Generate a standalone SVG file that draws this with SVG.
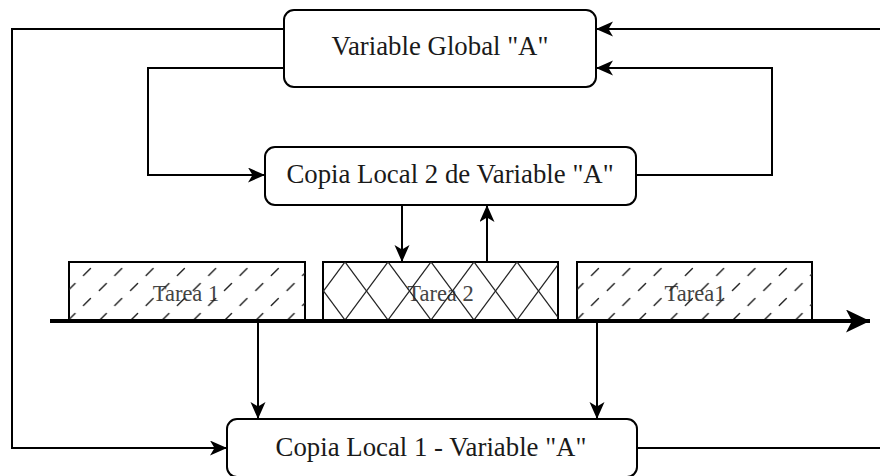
<svg xmlns="http://www.w3.org/2000/svg" width="880" height="476" viewBox="0 0 880 476">
  <style>
    .box { fill: #ffffff; stroke: #000000; stroke-width: 2; }
    .task { stroke: #000000; stroke-width: 2; }
    .label { font-family: "Liberation Serif", "Times New Roman", serif; font-size: 26.8px; fill: #1a1a1a; text-anchor: middle; }
    .tlabel { font-family: "Liberation Serif", "Times New Roman", serif; font-size: 22.5px; fill: #444444; text-anchor: middle; }
    .wire { fill: none; stroke: #000000; stroke-width: 2; }
    .axis { fill: none; stroke: #000000; stroke-width: 4; }
  </style>
  <defs>
    <!-- sparse slash hatch for the "Tarea 1" slots -->
    <pattern id="slash" patternUnits="userSpaceOnUse" x="2.5" y="2" width="31.3" height="30">
      <g stroke="#222222" stroke-width="1.4" stroke-linecap="round">
        <line x1="12" y1="11.5" x2="19" y2="4.5"/>
        <line x1="-3.5" y1="26.5" x2="3.5" y2="19.5"/>
        <line x1="27.8" y1="26.5" x2="34.8" y2="19.5"/>
      </g>
    </pattern>
    <!-- diamond cross hatch for the "Tarea 2" slot -->
    <pattern id="cross" patternUnits="userSpaceOnUse" x="22" y="0" width="43" height="58">
      <g stroke="#222222" stroke-width="1.3">
        <line x1="0" y1="0" x2="43" y2="58"/>
        <line x1="43" y1="0" x2="0" y2="58"/>
      </g>
    </pattern>
    <marker id="arrow" markerUnits="userSpaceOnUse" markerWidth="18" markerHeight="16" refX="17" refY="7.5" orient="auto">
      <path d="M0,0 L17,7.5 L0,15 L4.5,7.5 Z" fill="#000000"/>
    </marker>
    <marker id="bigarrow" markerUnits="userSpaceOnUse" markerWidth="26" markerHeight="24" refX="24" refY="11.5" orient="auto">
      <path d="M0,0 L24,11.5 L0,23 L6,11.5 Z" fill="#000000"/>
    </marker>
  </defs>

  <!-- task slots on the time axis -->
  <g id="tarea1a" transform="translate(69,262)">
    <rect class="task" x="0" y="0" width="236" height="59" fill="#ffffff"/>
    <text class="tlabel" x="117" y="39">Tarea 1</text>
    <rect x="0" y="0" width="236" height="59" fill="url(#slash)"/>
  </g>
  <g id="tarea2" transform="translate(323,262)">
    <rect class="task" x="0" y="0" width="235" height="59" fill="#ffffff"/>
    <text class="tlabel" x="117.5" y="39">Tarea 2</text>
    <rect x="0" y="0" width="235" height="59" fill="url(#cross)"/>
  </g>
  <g id="tarea1b" transform="translate(577,262)">
    <rect class="task" x="0" y="0" width="235" height="59" fill="#ffffff"/>
    <text class="tlabel" x="118" y="39">Tarea1</text>
    <rect x="0" y="0" width="235" height="59" fill="url(#slash)"/>
  </g>

  <!-- variable nodes -->
  <g id="global">
    <rect class="box" x="284" y="10" width="312" height="77" rx="10" ry="10"/>
    <text class="label" x="440" y="55">Variable Global "A"</text>
  </g>
  <g id="local2">
    <rect class="box" x="265" y="147" width="371" height="58" rx="10" ry="10"/>
    <text class="label" x="450" y="183">Copia Local 2 de Variable "A"</text>
  </g>
  <g id="local1">
    <rect class="box" x="227" y="419" width="410" height="58" rx="10" ry="10"/>
    <text class="label" x="431" y="456">Copia Local 1 - Variable "A"</text>
  </g>

  <!-- connectors -->
  <g id="connectors">
    <path class="axis" d="M50,321 H870" marker-end="url(#bigarrow)"/>
    <path class="wire" d="M284,29 H12 V448 H227" marker-end="url(#arrow)"/>
    <path class="wire" d="M284,68 H148 V175 H265" marker-end="url(#arrow)"/>
    <path class="wire" d="M636,175 H772 V68 H596" marker-end="url(#arrow)"/>
    <path class="wire" d="M637,448 H895 V29 H596" marker-end="url(#arrow)"/>
    <path class="wire" d="M402,205 V262" marker-end="url(#arrow)"/>
    <path class="wire" d="M487,262 V205" marker-end="url(#arrow)"/>
    <path class="wire" d="M258,323 V419" marker-end="url(#arrow)"/>
    <path class="wire" d="M597,323 V419" marker-end="url(#arrow)"/>
  </g>
</svg>
